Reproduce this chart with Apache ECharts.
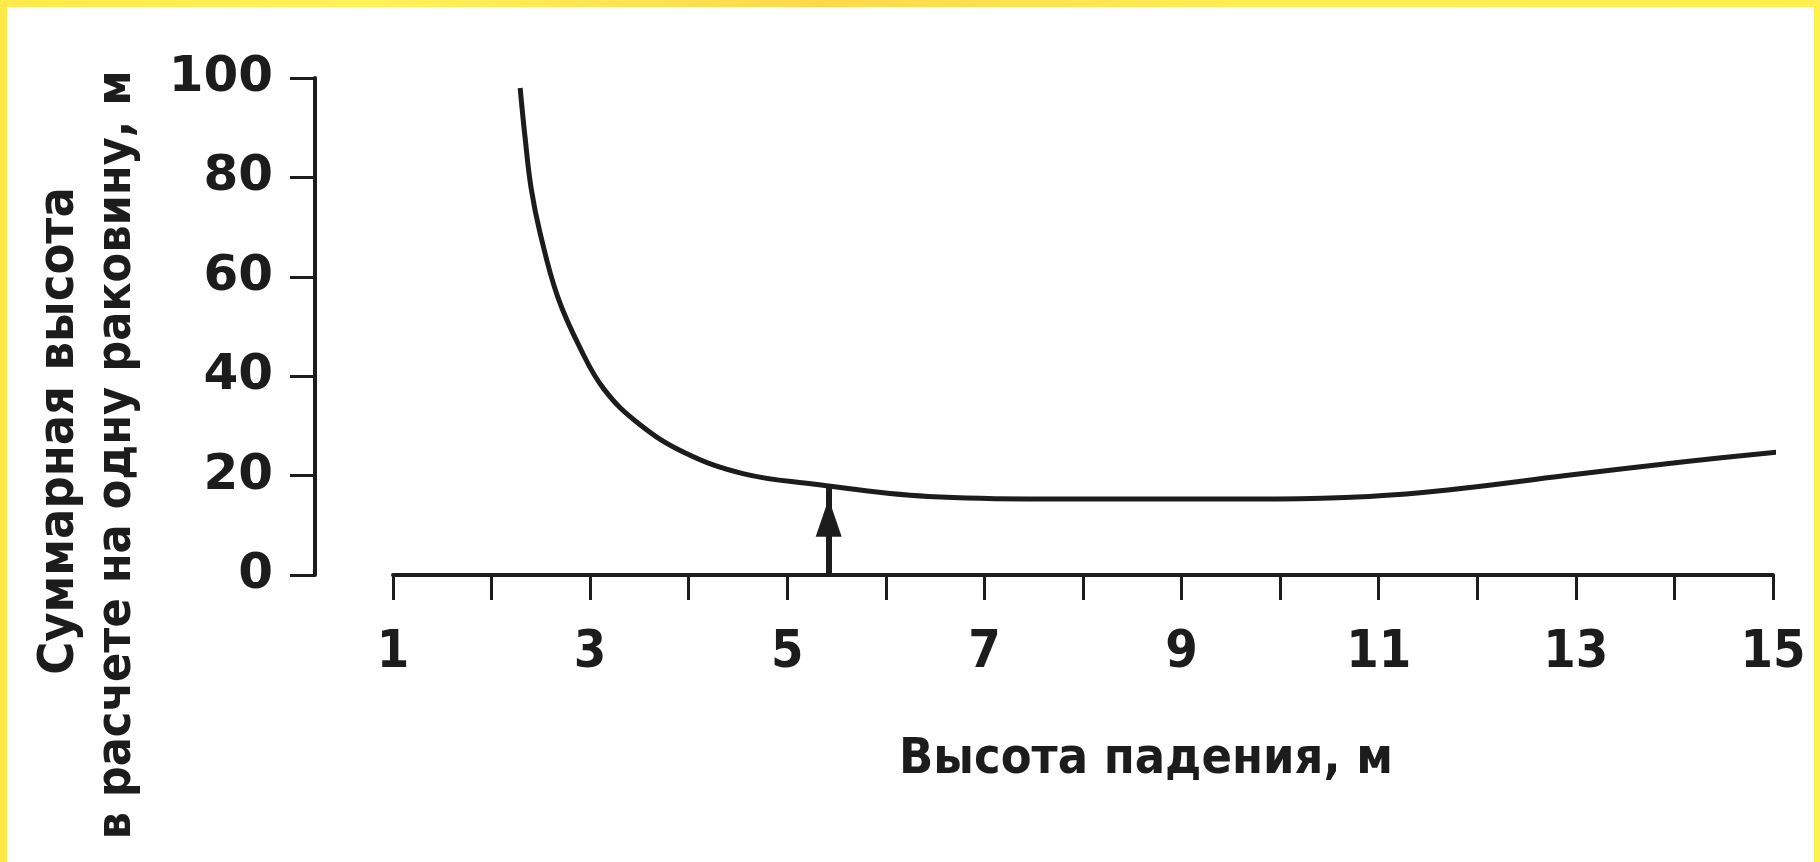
<!DOCTYPE html>
<html>
<head>
<meta charset="utf-8">
<script src="https://cdn.jsdelivr.net/npm/echarts@6/dist/echarts.min.js"></script>
<style>
  html, body { margin: 0; padding: 0; }
  body { width: 1820px; height: 862px; overflow: hidden;
         background: linear-gradient(90deg, #ffe94a 0%, #fff35a 20%, #ffd84a 45%, #ffef55 70%, #fff04e 100%); }
  #wrap { position: absolute; left: 7px; top: 7px; width: 1807px; height: 855px; background: #fff; }
  #c { width: 1807px; height: 855px; }
</style>
</head>
<body>
<div id="wrap"><div id="c"></div></div>
<script>
// Data
const dropHeight = [2.29, 2.34, 2.40, 2.49, 2.67, 2.90, 3.14, 3.49, 3.96, 4.55, 5.26, 6.43, 7.61, 8.79, 9.97, 10.9, 11.7, 12.9, 14.1, 15.18];
const totalHeight = [98, 88, 78, 69, 56, 45.6, 37.4, 30.5, 24.6, 20.4, 18.3, 15.8, 15.3, 15.3, 15.3, 15.8, 17.1, 20.0, 22.8, 25.0];
const arrowX = 5.42;
const arrowTop = 17.7;
const arrowHead = 11.5;
const yTicks = { min: 0, max: 100, step: 20 };
const xTicks = { min: 1, max: 15, step: 1 };
const yTitle1 = 'Суммарная высота';
const yTitle2 = 'в расчете на одну раковину, м';
const xTitle = 'Высота падения, м';

const ink = '#1c1c1c';
const OX = 7, OY = 7; // container offset in window
const chart = echarts.init(document.getElementById('c'));

const curve = dropHeight.map((x, i) => [x, totalHeight[i]]);

chart.setOption({
  animation: false,
  backgroundColor: '#fff',
  grid: [
    { left: 315 - OX, top: 78 - OY, width: 10, height: 497 },
    { left: 393 - OX, top: 78 - OY, width: 1380, height: 497 }
  ],
  xAxis: [
    { gridIndex: 0, type: 'value', min: 0, max: 1, show: false },
    { gridIndex: 1, type: 'value', min: xTicks.min, max: xTicks.max, interval: xTicks.step,
      axisLine: { show: true, onZero: false, lineStyle: { color: ink, width: 4 } },
      axisTick: { show: true, length: 25, lineStyle: { color: ink, width: 3 } },
      splitLine: { show: false },
      axisLabel: { margin: 52, color: ink, fontFamily: 'DejaVu Sans Condensed', fontWeight: 'bold', fontSize: 52,
        formatter: v => (Math.round(v) % 2 === 1 ? String(Math.round(v)) : '') } }
  ],
  yAxis: [
    { gridIndex: 0, type: 'value', min: yTicks.min, max: yTicks.max, interval: yTicks.step,
      axisLine: { show: true, lineStyle: { color: ink, width: 4 } },
      axisTick: { show: true, length: 25, lineStyle: { color: ink, width: 3 } },
      splitLine: { show: false },
      axisLabel: { margin: 42, color: ink, fontFamily: 'DejaVu Sans', fontWeight: 'bold', fontSize: 50 } },
    { gridIndex: 1, type: 'value', min: yTicks.min, max: yTicks.max, show: false }
  ],
  series: [
    { type: 'line', xAxisIndex: 1, yAxisIndex: 1, data: curve, smooth: 0.4,
      showSymbol: false, clip: false,
      lineStyle: { color: ink, width: 5 },
      markLine: { silent: true, symbol: ['none', 'none'], label: { show: false },
        lineStyle: { color: ink, width: 6, type: 'solid' },
        data: [[{ coord: [arrowX, 0] }, { coord: [arrowX, arrowTop] }]] },
      markPoint: { silent: true, symbol: 'triangle', symbolSize: [26, 38], label: { show: false },
        itemStyle: { color: ink },
        data: [{ coord: [arrowX, arrowHead] }] }
    }
  ],
  graphic: [
    { type: 'text', x: 60 - OX, y: 431 - OY, rotation: Math.PI / 2,
      style: { text: yTitle1, fill: ink, font: 'bold 50px "DejaVu Sans Condensed"', textAlign: 'center', textVerticalAlign: 'middle' } },
    { type: 'text', x: 118 - OX, y: 455 - OY, rotation: Math.PI / 2,
      style: { text: yTitle2, fill: ink, font: 'bold 48px "DejaVu Sans Condensed"', textAlign: 'center', textVerticalAlign: 'middle' } },
    { type: 'text', x: 1146 - OX, y: 760 - OY,
      style: { text: xTitle, fill: ink, font: 'bold 50px "DejaVu Sans Condensed"', textAlign: 'center', textVerticalAlign: 'middle' } }
  ]
});
</script>
</body>
</html>
